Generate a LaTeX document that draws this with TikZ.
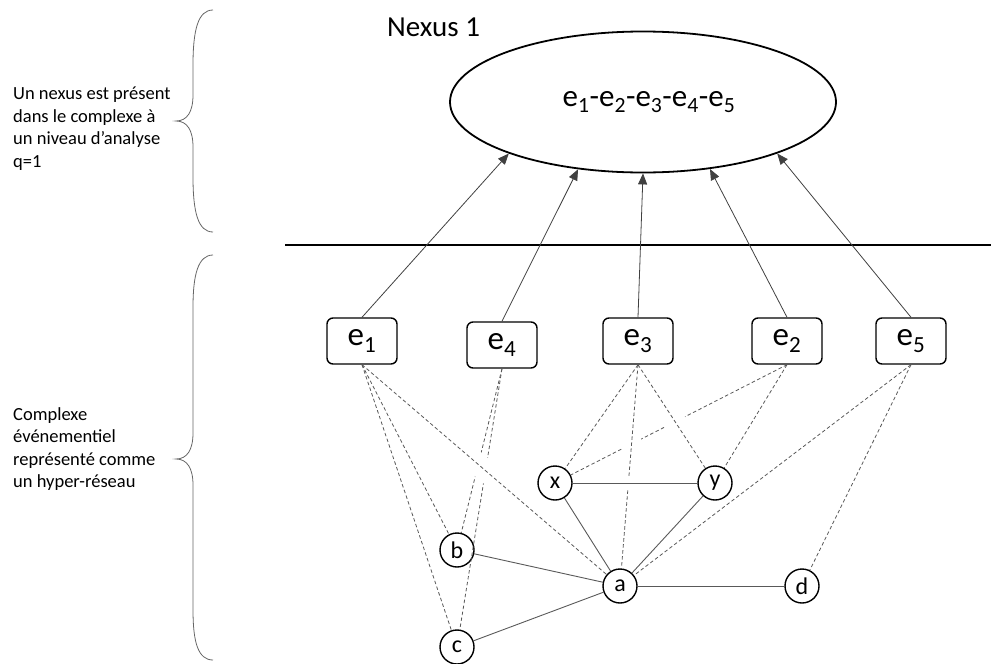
\documentclass[tikz,border=0pt]{standalone}
\usepackage{fontspec}
\setmainfont{Carlito}
\usepackage{tikz}
\usetikzlibrary{arrows.meta,shapes.geometric}

\begin{document}
\begin{tikzpicture}[
  x=1pt, y=-1pt,
  ebox/.style={draw, rounded corners=6pt, line width=1.4pt, minimum width=70pt,
               minimum height=46pt, inner sep=0pt, font=\fontsize{33}{36}\selectfont},
  vtx/.style={draw, circle, line width=1.4pt, minimum size=34pt, inner sep=0pt,
              font=\fontsize{24}{26}\selectfont},
  hyper/.style={draw=black!65, line width=0.8pt, dash pattern=on 3.5pt off 2.5pt},
  link/.style={draw=black!65, line width=0.9pt},
  cutband/.style={draw=white, line width=#1},
  cutband/.default=22pt,
  arrow/.style={-{Triangle[length=11pt,width=9pt]}, draw=black!75, line width=0.8pt},
  brace/.style={draw=black!60, line width=0.8pt},
  note/.style={anchor=north west, align=left, inner sep=0pt, font=\fontsize{18.5}{22.5}\selectfont},
]
  \useasboundingbox (0,0) rectangle (991,664);

  % ---- Left notes ----
  \node[note] (topnote) at (13,87) {Un nexus est présent\\dans le complexe à\\un niveau d’analyse\\q=1};
  \node[note] (lownote) at (13,407) {Complexe\\événementiel\\représenté comme\\un hyper-réseau};
  \draw[brace] (213,10) .. controls (198,10) and (193,30) .. (193,65) -- (193,95)
    .. controls (193,112) and (187,121) .. (176,121)
    .. controls (187,121) and (193,130) .. (193,147) -- (193,177)
    .. controls (193,212) and (198,232) .. (213,232);
  \draw[brace] (213,255) .. controls (198,255) and (193,275) .. (193,307) -- (193,433)
    .. controls (193,450) and (187,459) .. (176,459)
    .. controls (187,459) and (193,468) .. (193,485) -- (193,610)
    .. controls (193,642) and (198,660) .. (213,660);
  \draw[line width=2.5pt] (285,245) -- (991,245);

  % ---- Nexus ----
  \node[anchor=base west, inner sep=0pt, font=\fontsize{29}{34}\selectfont] (title) at (387,36) {Nexus 1};
  \node[draw, ellipse, line width=1.8pt, minimum width=386pt, minimum height=141pt, inner sep=0pt,
        font=\fontsize{31}{34}\selectfont] (nexus) at (643,102)
        {\hspace{12pt}e\textsubscript{1}-e\textsubscript{2}-e\textsubscript{3}-e\textsubscript{4}-e\textsubscript{5}};

  % ---- Events ----
  \node[ebox] (e1) at (362,341) {e\textsubscript{1}};
  \node[ebox] (e4) at (502,345) {e\textsubscript{4}};
  \node[ebox] (e3) at (638,341) {e\textsubscript{3}};
  \node[ebox] (e2) at (787,341) {e\textsubscript{2}};
  \node[ebox] (e5) at (911,341) {e\textsubscript{5}};

  % ---- Vertices ----
  \node[vtx] (vx) at (555,483) {x};
  \node[vtx] (vy) at (715,483) {y};
  \node[vtx] (vb) at (457,550) {b};
  \node[vtx] (va) at (620,586) {a};
  \node[vtx] (vd) at (802,586) {d};
  \node[vtx] (vc) at (457,647) {c};

  % ---- Hyper-links ----
  \draw[hyper] (e2.south) -- (vx);
  \draw[hyper] (e4.south) -- (vb);
  \draw[hyper] (e4.south) -- (vc);
  \draw[hyper] (e1.south) -- (vb);
  \draw[hyper] (e1.south) -- (vc);
  \draw[cutband, shorten <=140pt, shorten >=145pt] (e1.south) -- (va);
  \draw[hyper] (e1.south) -- (va);
  \draw[cutband=18pt, shorten <=67pt, shorten >=112pt] (e3.south) -- (va);
  \draw[hyper] (e3.south) -- (va);
  \draw[cutband, shorten <=54pt, shorten >=42pt] (e3.south) -- (vy);
  \draw[hyper] (e3.south) -- (vy);
  \draw[hyper] (e3.south) -- (vx);
  \draw[hyper] (e2.south) -- (vy);
  \draw[hyper] (e5.south) -- (va);
  \draw[hyper] (e5.south) -- (vd);

  % ---- Links ----
  \draw[cutband=14pt, shorten <=46pt, shorten >=59pt] (vx) -- (vy);
  \draw[link] (vx) -- (vy);
  \draw[link] (vx) -- (va);
  \draw[link] (vy) -- (va);
  \draw[link] (vb) -- (va);
  \draw[link] (vc) -- (va);
  \draw[link] (va) -- (vd);

  % ---- Arrows ----
  \draw[arrow] (e1.north) -- (nexus.201);
  \draw[arrow] (e4.north) -- (nexus.226);
  \draw[arrow] (e3.north) -- (nexus.270);
  \draw[arrow] (e2.north) -- (nexus.315);
  \draw[arrow] (e5.north) -- (nexus.339);
\end{tikzpicture}
\end{document}
